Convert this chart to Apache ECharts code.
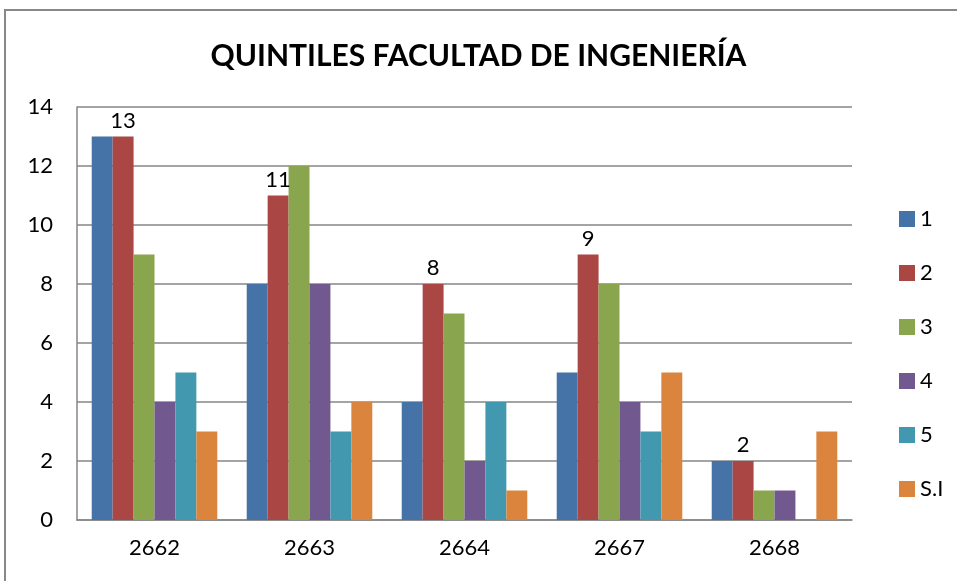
<!DOCTYPE html>
<html>
<head>
<meta charset="utf-8">
<script src="https://cdn.jsdelivr.net/npm/echarts@6/dist/echarts.min.js"></script>
<style>
html, body { margin: 0; padding: 0; background: #fff; }
#chart { width: 957px; height: 581px; }
</style>
</head>
<body>
<div id="chart"></div>
<script>
// data
var categories = ['2662', '2663', '2664', '2667', '2668'];
var seriesNames = ['1', '2', '3', '4', '5', 'S.I'];
var q1 = [13, 8, 4, 5, 2];
var q2 = [13, 11, 8, 9, 2];
var q3 = [9, 12, 7, 8, 1];
var q4 = [4, 8, 2, 4, 1];
var q5 = [5, 3, 4, 3, 0];
var si = [3, 4, 1, 5, 3];
var colors = ['#4572A7', '#AA4643', '#89A54E', '#71588F', '#4198AF', '#DB843D'];

var myChart = echarts.init(document.getElementById('chart'));
var font = 'Lato, "Open Sans", sans-serif';

var allData = [q1, q2, q3, q4, q5, si];
var series = allData.map(function (d, i) {
    return {
        name: seriesNames[i],
        type: 'bar',
        data: d,
        barGap: '0%',
        barCategoryGap: '19%',
        itemStyle: { color: colors[i] },
        label: {
            show: i === 1,
            position: 'top',
            distance: 5,
            color: '#000',
            fontSize: 22,
            fontFamily: font
        }
    };
});

var option = {
    color: colors,
    animation: false,
    title: {
        text: 'QUINTILES FACULTAD DE INGENIERÍA',
        left: 'center',
        top: 36,
        textStyle: { fontSize: 30, fontWeight: 'bold', color: '#000', fontFamily: font }
    },
    graphic: [{
        type: 'polyline',
        shape: { points: [[5, 581], [5, 10], [957, 10]] },
        style: { stroke: '#888', lineWidth: 2, fill: null }
    }],
    legend: {
        orient: 'vertical',
        left: 894,
        top: 203,
        itemWidth: 16,
        itemHeight: 16,
        itemGap: 32,
        icon: 'rect',
        textStyle: { fontSize: 22, color: '#000', fontFamily: font },
        data: seriesNames
    },
    grid: { left: 77, right: 105, top: 107, bottom: 61 },
    xAxis: {
        type: 'category',
        data: categories,
        axisLine: { lineStyle: { color: '#868686', width: 1.5 } },
        axisTick: { show: false },
        axisLabel: { fontSize: 22, color: '#000', margin: 17, fontFamily: font }
    },
    yAxis: {
        type: 'value',
        min: 0,
        max: 14,
        interval: 2,
        axisLine: { show: true, lineStyle: { color: '#868686', width: 1.5 } },
        axisTick: { show: false },
        splitLine: { lineStyle: { color: '#868686', width: 1.5 } },
        axisLabel: { fontSize: 22, color: '#000', margin: 24, fontFamily: font }
    },
    series: series
};

myChart.setOption(option);
</script>
</body>
</html>
